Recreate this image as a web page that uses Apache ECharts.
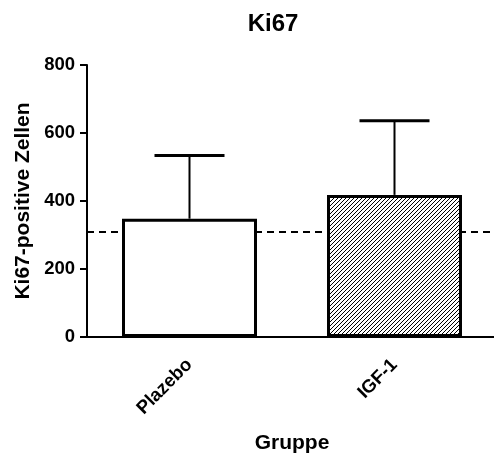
<!DOCTYPE html>
<html>
<head>
<meta charset="utf-8">
<script src="https://cdn.jsdelivr.net/npm/echarts@6/dist/echarts.min.js"></script>
<style>
  html, body { margin: 0; padding: 0; background: #fff; }
  #chart { width: 494px; height: 453px; }
</style>
</head>
<body>
<div id="chart"></div>
<script>
// Ki67-positive cell counts per group (mean and SD)
const groups = ['Plazebo', 'IGF-1'];
const means = [348, 418];
const sds = [186, 218];
const referenceLevel = 311;
const yTicks = { min: 0, max: 800, interval: 200 };

const FONT = '"Liberation Sans", Arial, Helvetica, sans-serif';

// diagonal hatch tile for the IGF-1 bar
function hatchPattern() {
  const c = document.createElement('canvas');
  c.width = 4; c.height = 4;
  const g = c.getContext('2d');
  g.fillStyle = '#fff';
  g.fillRect(0, 0, 4, 4);
  g.strokeStyle = '#000';
  g.lineWidth = 1;
  g.beginPath();
  g.moveTo(0, 4); g.lineTo(4, 0);
  g.moveTo(-1, 1); g.lineTo(1, -1);
  g.moveTo(3, 5); g.lineTo(5, 3);
  g.stroke();
  return { image: c, repeat: 'repeat' };
}

const fills = ['#ffffff', hatchPattern()];

const chart = echarts.init(document.getElementById('chart'), null, { renderer: 'canvas' });

chart.setOption({
  animation: false,
  backgroundColor: '#fff',
  title: {
    text: 'Ki67',
    left: 268,
    textAlign: 'center',
    top: 7,
    textStyle: { fontFamily: FONT, fontSize: 24, fontWeight: 'bold', color: '#000' }
  },
  grid: {
    left: 87, right: -3, top: 65, bottom: 116,
    containLabel: false,
    outerBoundsMode: 'none'
  },
  xAxis: {
    type: 'category',
    data: groups,
    name: 'Gruppe',
    nameLocation: 'middle',
    nameGap: 96,
    nameTextStyle: { fontFamily: FONT, fontSize: 21, fontWeight: 'bold', color: '#000' },
    axisLine: { lineStyle: { color: '#000', width: 2 } },
    axisTick: { alignWithLabel: true, length: 7, lineStyle: { color: '#000', width: 2 } },
    axisLabel: {
      rotate: 45, margin: 25,
      fontFamily: FONT, fontSize: 18.5, fontWeight: 'bold', color: '#000'
    },
    splitLine: { show: false }
  },
  yAxis: {
    type: 'value',
    min: yTicks.min, max: yTicks.max, interval: yTicks.interval,
    name: 'Ki67-positive Zellen',
    nameLocation: 'middle',
    nameGap: 50,
    nameTextStyle: { fontFamily: FONT, fontSize: 21, fontWeight: 'bold', color: '#000' },
    axisLine: { show: true, lineStyle: { color: '#000', width: 2 } },
    axisTick: { show: true, length: 7, lineStyle: { color: '#000', width: 2 } },
    axisLabel: { margin: 12, fontFamily: FONT, fontSize: 18.5, fontWeight: 'bold', color: '#000' },
    splitLine: { show: false }
  },
  series: [
    {
      type: 'bar',
      z: 2,
      barWidth: 135,
      data: means.map((v, i) => ({
        value: v,
        itemStyle: { color: fills[i], borderColor: '#000', borderWidth: 3 }
      })),
      markLine: {
        z: 1,
        silent: true,
        symbol: 'none',
        label: { show: false },
        lineStyle: { color: '#000', width: 2, type: [7, 5] },
        data: [{ yAxis: referenceLevel }]
      }
    },
    {
      // upper SD whiskers with caps
      type: 'custom',
      z: 3,
      data: means.map((m, i) => [i, m, m + sds[i]]),
      renderItem: function (params, api) {
        const base = api.coord([api.value(0), api.value(1)]);
        const top = api.coord([api.value(0), api.value(2)]);
        const halfCap = 35;
        return {
          type: 'group',
          children: [
            {
              type: 'line',
              shape: { x1: base[0], y1: base[1], x2: top[0], y2: top[1] },
              style: { stroke: '#000', lineWidth: 2 }
            },
            {
              type: 'line',
              shape: { x1: top[0] - halfCap, y1: top[1], x2: top[0] + halfCap, y2: top[1] },
              style: { stroke: '#000', lineWidth: 3 }
            }
          ]
        };
      }
    }
  ]
});
</script>
</body>
</html>
